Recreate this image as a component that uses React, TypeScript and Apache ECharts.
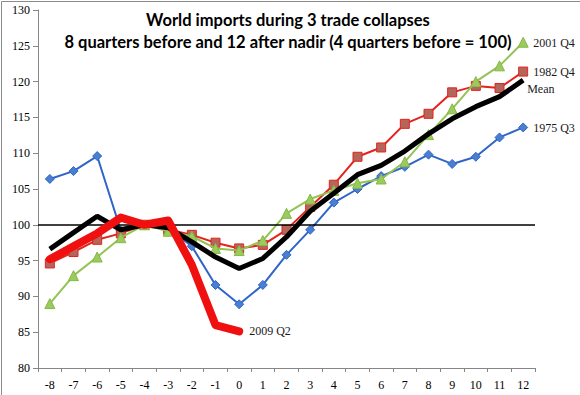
import React, { useEffect, useRef } from "react";
import * as echarts from "echarts";

const quarters = ["-8","-7","-6","-5","-4","-3","-2","-1","0","1","2","3","4","5","6","7","8","9","10","11","12"];
const s1975 = [106.4,107.5,109.6,99.2,100,99.5,97.0,91.6,88.9,91.6,95.8,99.3,103.1,105.0,106.8,108.1,109.8,108.5,109.5,112.2,113.6];
const s1982 = [94.6,96.2,97.9,98.8,100,99.3,98.6,97.5,96.7,97.2,99.3,102.5,105.6,109.5,110.8,114.1,115.5,118.5,119.4,119.1,121.4];
const s2001 = [89.0,92.9,95.5,98.2,100,99.1,98.4,96.7,96.4,97.8,101.6,103.6,104.8,105.8,106.4,108.8,112.6,116.2,120.0,122.2,125.5];
const sMean = [96.6,98.9,101.2,99.3,100,99.6,97.6,95.5,93.9,95.3,98.3,101.9,104.4,107.0,108.3,110.3,112.7,114.8,116.5,117.9,120.2];
const s2009 = [95.2,97.0,98.8,101.0,100,100.6,94.4,86.0,85.1];
const yTicks = { min: 80, max: 130, step: 5 };
const titleLines = ["World imports during 3 trade collapses", "8 quarters before and 12 after nadir (4 quarters before = 100)"];

const serif = "'Liberation Serif', 'DejaVu Serif', serif";

export default function App() {
  const ref = useRef<HTMLDivElement>(null);
  useEffect(() => {
    if (!ref.current) return;
    const chart = echarts.init(ref.current, undefined, { renderer: "svg" });
    const endLabel = (text: string, offset: number[], color = "#1a1a1a") => ({
      show: true,
      formatter: text,
      fontFamily: serif,
      fontSize: 12,
      color,
      distance: 10,
      offset,
    });
    chart.setOption({
      animation: false,
      backgroundColor: "#ffffff",
      title: {
        text: titleLines.join("\n"),
        left: 283,
        top: 4,
        textAlign: "center",
        textStyle: {
          fontFamily: "Lato, 'Open Sans', sans-serif",
          fontWeight: "bold",
          fontSize: 16.5,
          lineHeight: 22,
          color: "#000000",
        },
      },
      grid: { left: 38, right: 45, top: 10, bottom: 27, containLabel: false },
      xAxis: {
        type: "category",
        data: quarters,
        boundaryGap: true,
        axisLine: { lineStyle: { color: "#868686", width: 1 } },
        axisTick: { show: true, length: 4, inside: false, lineStyle: { color: "#868686" } },
        axisLabel: { fontFamily: serif, fontSize: 12, color: "#000", margin: 11 },
        splitLine: { show: false },
      },
      yAxis: {
        type: "value",
        min: yTicks.min,
        max: yTicks.max,
        interval: yTicks.step,
        axisLine: { show: true, lineStyle: { color: "#868686", width: 1 } },
        axisTick: { show: true, length: 5, inside: false, lineStyle: { color: "#868686" } },
        axisLabel: { fontFamily: serif, fontSize: 12, color: "#000", margin: 8 },
        splitLine: { show: false },
      },
      graphic: [
        { type: "line", shape: { x1: 1.5, y1: 1.5, x2: 580, y2: 1.5 }, style: { stroke: "#8a8a8a", lineWidth: 1 } },
        { type: "line", shape: { x1: 1.5, y1: 1.5, x2: 1.5, y2: 395 }, style: { stroke: "#8a8a8a", lineWidth: 1 } },
      ],
      series: [
        {
          name: "1975 Q3",
          type: "line",
          data: s1975,
          symbol: "diamond",
          symbolSize: 9,
          lineStyle: { color: "#2f64c8", width: 2 },
          itemStyle: { color: "#4a7fd0", borderColor: "#2f64c8", borderWidth: 1 },
          endLabel: endLabel("1975 Q3", [0, 1]),
          z: 2,
          markLine: {
            silent: true,
            symbol: "none",
            label: { show: false },
            lineStyle: { color: "#000", width: 1.5, type: "solid" },
            data: [{ yAxis: 100 }],
          },
        },
        {
          name: "1982 Q4",
          type: "line",
          data: s1982,
          symbol: "rect",
          symbolSize: 9,
          lineStyle: { color: "#e3231c", width: 2 },
          itemStyle: { color: "#b5665a", borderColor: "#e3231c", borderWidth: 1 },
          endLabel: endLabel("1982 Q4", [0, 0]),
          z: 3,
        },
        {
          name: "2001 Q4",
          type: "line",
          data: s2001,
          symbol: "triangle",
          symbolSize: 10,
          lineStyle: { color: "#92c353", width: 2 },
          itemStyle: { color: "#9acb5c", borderColor: "#86b848", borderWidth: 1 },
          endLabel: endLabel("2001 Q4", [0, 1]),
          z: 4,
        },
        {
          name: "Mean",
          type: "line",
          data: sMean,
          symbol: "none",
          lineStyle: { color: "#000000", width: 5 },
          endLabel: endLabel("Mean", [-6, 9]),
          z: 5,
        },
        {
          name: "2009 Q2",
          type: "line",
          data: s2009,
          symbol: "none",
          lineStyle: { color: "#f01010", width: 8, cap: "round", join: "round" },
          endLabel: endLabel("2009 Q2", [0, 0]),
          z: 6,
        },
      ],
    });
    return () => chart.dispose();
  }, []);
  return <div ref={ref} style={{ position: "fixed", left: 0, top: 0, width: 580, height: 395 }} />;
}
